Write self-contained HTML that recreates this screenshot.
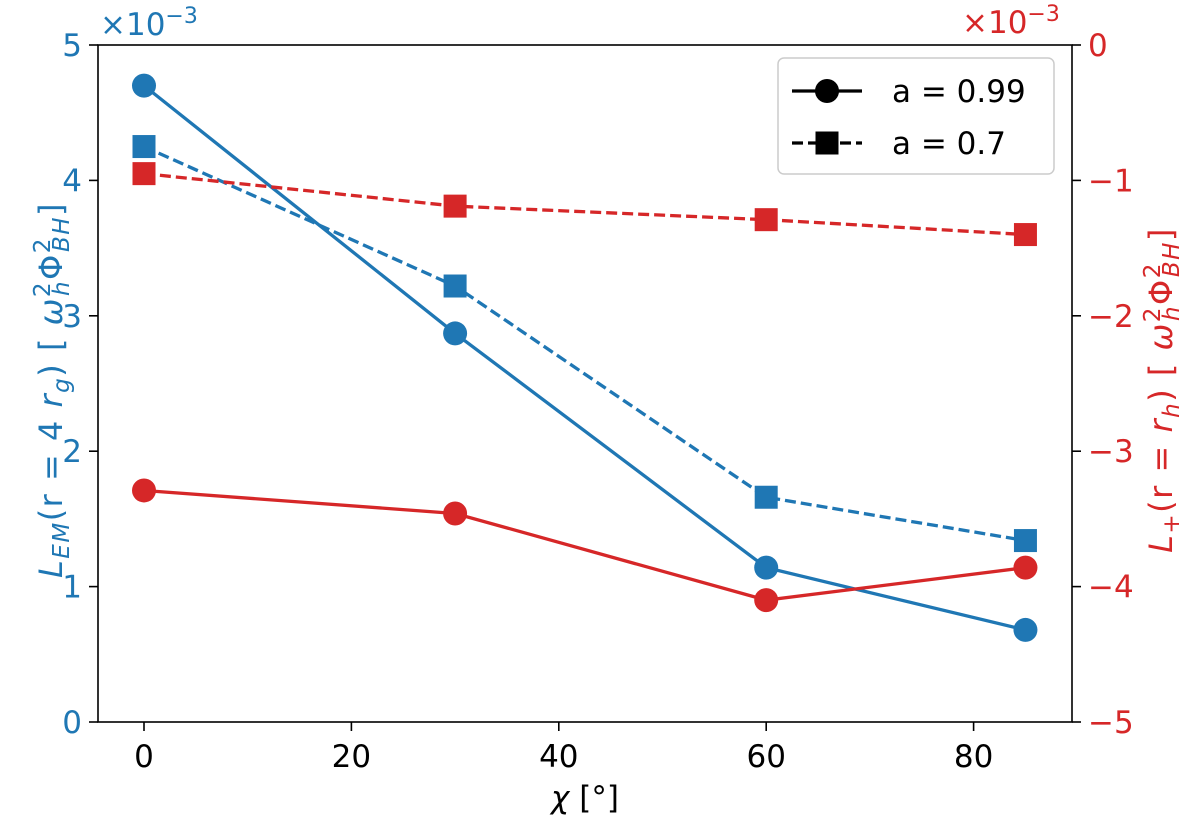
<!DOCTYPE html>
<html><head><meta charset="utf-8"><style>
body{margin:0;background:#fff;}
svg text{font-family:"DejaVu Sans","Liberation Sans",sans-serif;}
</style></head><body>
<svg id="chart" width="1200" height="824" viewBox="0 0 1200 824">
<rect x="0" y="0" width="1200" height="824" fill="#fff"/>
<g id="marks"></g>
<g id="axes"></g>
</svg>
<script>
const chiValues=[0,30,60,85];
const lemA099=[4.70,2.87,1.14,0.68];
const lemA07=[4.25,3.22,1.66,1.34];
const lplusA099=[-3.29,-3.46,-4.10,-3.86];
const lplusA07=[-0.95,-1.19,-1.29,-1.40];
const xTicks=[0,20,40,60,80];
const leftTicks=[0,1,2,3,4,5];
const rightTicks=[0,-1,-2,-3,-4,-5];

const L=98,R=1072,T=45,B=722;
const xS=v=>144+v*10.37;
const yL=v=>B-(v/5)*(B-T);
const yR=v=>T-(v/5)*(B-T);
const NS='http://www.w3.org/2000/svg';
const marks=document.getElementById('marks'),axes=document.getElementById('axes');
function mk(tag,attrs,parent,txt){const e=document.createElementNS(NS,tag);for(const k in attrs)e.setAttribute(k,attrs[k]);if(txt!==undefined)e.textContent=txt;parent.appendChild(e);return e;}
const BLUE='#1f77b4',RED='#d62728';
function series(vals,ys,color,dashed,square,name){
  const pts=vals.map((v,i)=>xS(chiValues[i])+','+ys(v)).join(' ');
  const pl=mk('polyline',{points:pts,fill:'none',stroke:color,'stroke-width':3.3,'stroke-dasharray':dashed?'11,5':'none'},marks);
  
  
  vals.forEach((v,i)=>{
    const cx=xS(chiValues[i]),cy=ys(v);let m;
    if(square)m=mk('rect',{x:cx-11.5,y:cy-11.5,width:23,height:23,fill:color},marks);
    else m=mk('circle',{cx:cx,cy:cy,r:12,fill:color},marks);
    
    
  });
}
series(lemA099,yL,BLUE,false,false,'lem-a099');
series(lemA07,yL,BLUE,true,true,'lem-a07');
series(lplusA099,yR,RED,false,false,'lplus-a099');
series(lplusA07,yR,RED,true,true,'lplus-a07');

const frame=mk('rect',{x:L,y:T,width:R-L,height:B-T,fill:'none',stroke:'#000','stroke-width':1.6},axes);


xTicks.forEach(v=>{const x=xS(v);mk('line',{x1:x,x2:x,y1:B,y2:B+9,stroke:'#000','stroke-width':1.6},axes);
  const t=mk('text',{x:x,y:B+45,'font-size':31,'text-anchor':'middle'},axes,v);
  
  });
leftTicks.forEach(v=>{const y=yL(v);mk('line',{x1:L-9,x2:L,y1:y,y2:y,stroke:'#000','stroke-width':1.6},axes);
  const t=mk('text',{x:L-16,y:y+11,'font-size':31,'text-anchor':'end',fill:BLUE},axes,v);
  
  });
rightTicks.forEach(v=>{const y=yR(v);mk('line',{x1:R,x2:R+9,y1:y,y2:y,stroke:'#000','stroke-width':1.6},axes);
  const t=mk('text',{x:R+16,y:y+11,'font-size':31,'text-anchor':'start',fill:RED},axes,v===0?'0':'\u2212'+(-v));
  
  });
</script>
<svg width="1200" height="824" style="position:absolute;left:0;top:0">
<text x="100" y="35" font-size="31" fill="#1f77b4" font-family="DejaVu Sans,sans-serif">×10<tspan dy="-12" font-size="22">−3</tspan></text>
<text x="962" y="33" font-size="31" fill="#d62728" font-family="DejaVu Sans,sans-serif">×10<tspan dy="-12" font-size="22">−3</tspan></text>
<text x="585" y="808" font-size="31" text-anchor="middle" font-family="DejaVu Sans,sans-serif"><tspan font-style="italic">χ</tspan> [°]</text>
<text transform="translate(62,390) rotate(-90)" font-size="32" letter-spacing="1.5" text-anchor="middle" fill="#1f77b4" font-family="DejaVu Sans,sans-serif"><tspan font-style="italic">L</tspan><tspan font-size="23" dy="7" font-style="italic">EM</tspan><tspan dy="-7">(r = 4 </tspan><tspan font-style="italic">r</tspan><tspan font-size="23" dy="7" font-style="italic">g</tspan><tspan dy="-7">) [ </tspan><tspan font-style="italic">ω</tspan><tspan font-size="23" dy="-12">2</tspan><tspan font-size="23" dx="-15" dy="19" font-style="italic">h</tspan><tspan dy="-7">Φ</tspan><tspan font-size="23" dy="-12">2</tspan><tspan font-size="23" dx="-15" dy="19" font-style="italic">BH</tspan><tspan dy="-7">]</tspan></text>
<text transform="translate(1172,390) rotate(-90)" font-size="32" letter-spacing="1.5" text-anchor="middle" fill="#d62728" font-family="DejaVu Sans,sans-serif"><tspan font-style="italic">L</tspan><tspan font-size="23" dy="7">+</tspan><tspan dy="-7">(r = </tspan><tspan font-style="italic">r</tspan><tspan font-size="23" dy="7" font-style="italic">h</tspan><tspan dy="-7">) [ </tspan><tspan font-style="italic">ω</tspan><tspan font-size="23" dy="-12">2</tspan><tspan font-size="23" dx="-15" dy="19" font-style="italic">h</tspan><tspan dy="-7">Φ</tspan><tspan font-size="23" dy="-12">2</tspan><tspan font-size="23" dx="-15" dy="19" font-style="italic">BH</tspan><tspan dy="-7">]</tspan></text>
<g>
<rect x="778" y="58" width="276" height="116" rx="6" fill="#fff" stroke="#ccc" stroke-width="1.5"/>
<line x1="792" y1="91" x2="862" y2="91" stroke="#000" stroke-width="3.3"/>
<circle cx="827" cy="91" r="12" fill="#000"/>
<text x="892" y="102" font-size="31" font-family="DejaVu Sans,sans-serif">a = 0.99</text>
<line x1="792" y1="143" x2="862" y2="143" stroke="#000" stroke-width="3.3" stroke-dasharray="11,5"/>
<rect x="815.5" y="131.5" width="23" height="23" fill="#000"/>
<text x="892" y="154" font-size="31" font-family="DejaVu Sans,sans-serif">a = 0.7</text>
</g>
</svg>
</body></html>
